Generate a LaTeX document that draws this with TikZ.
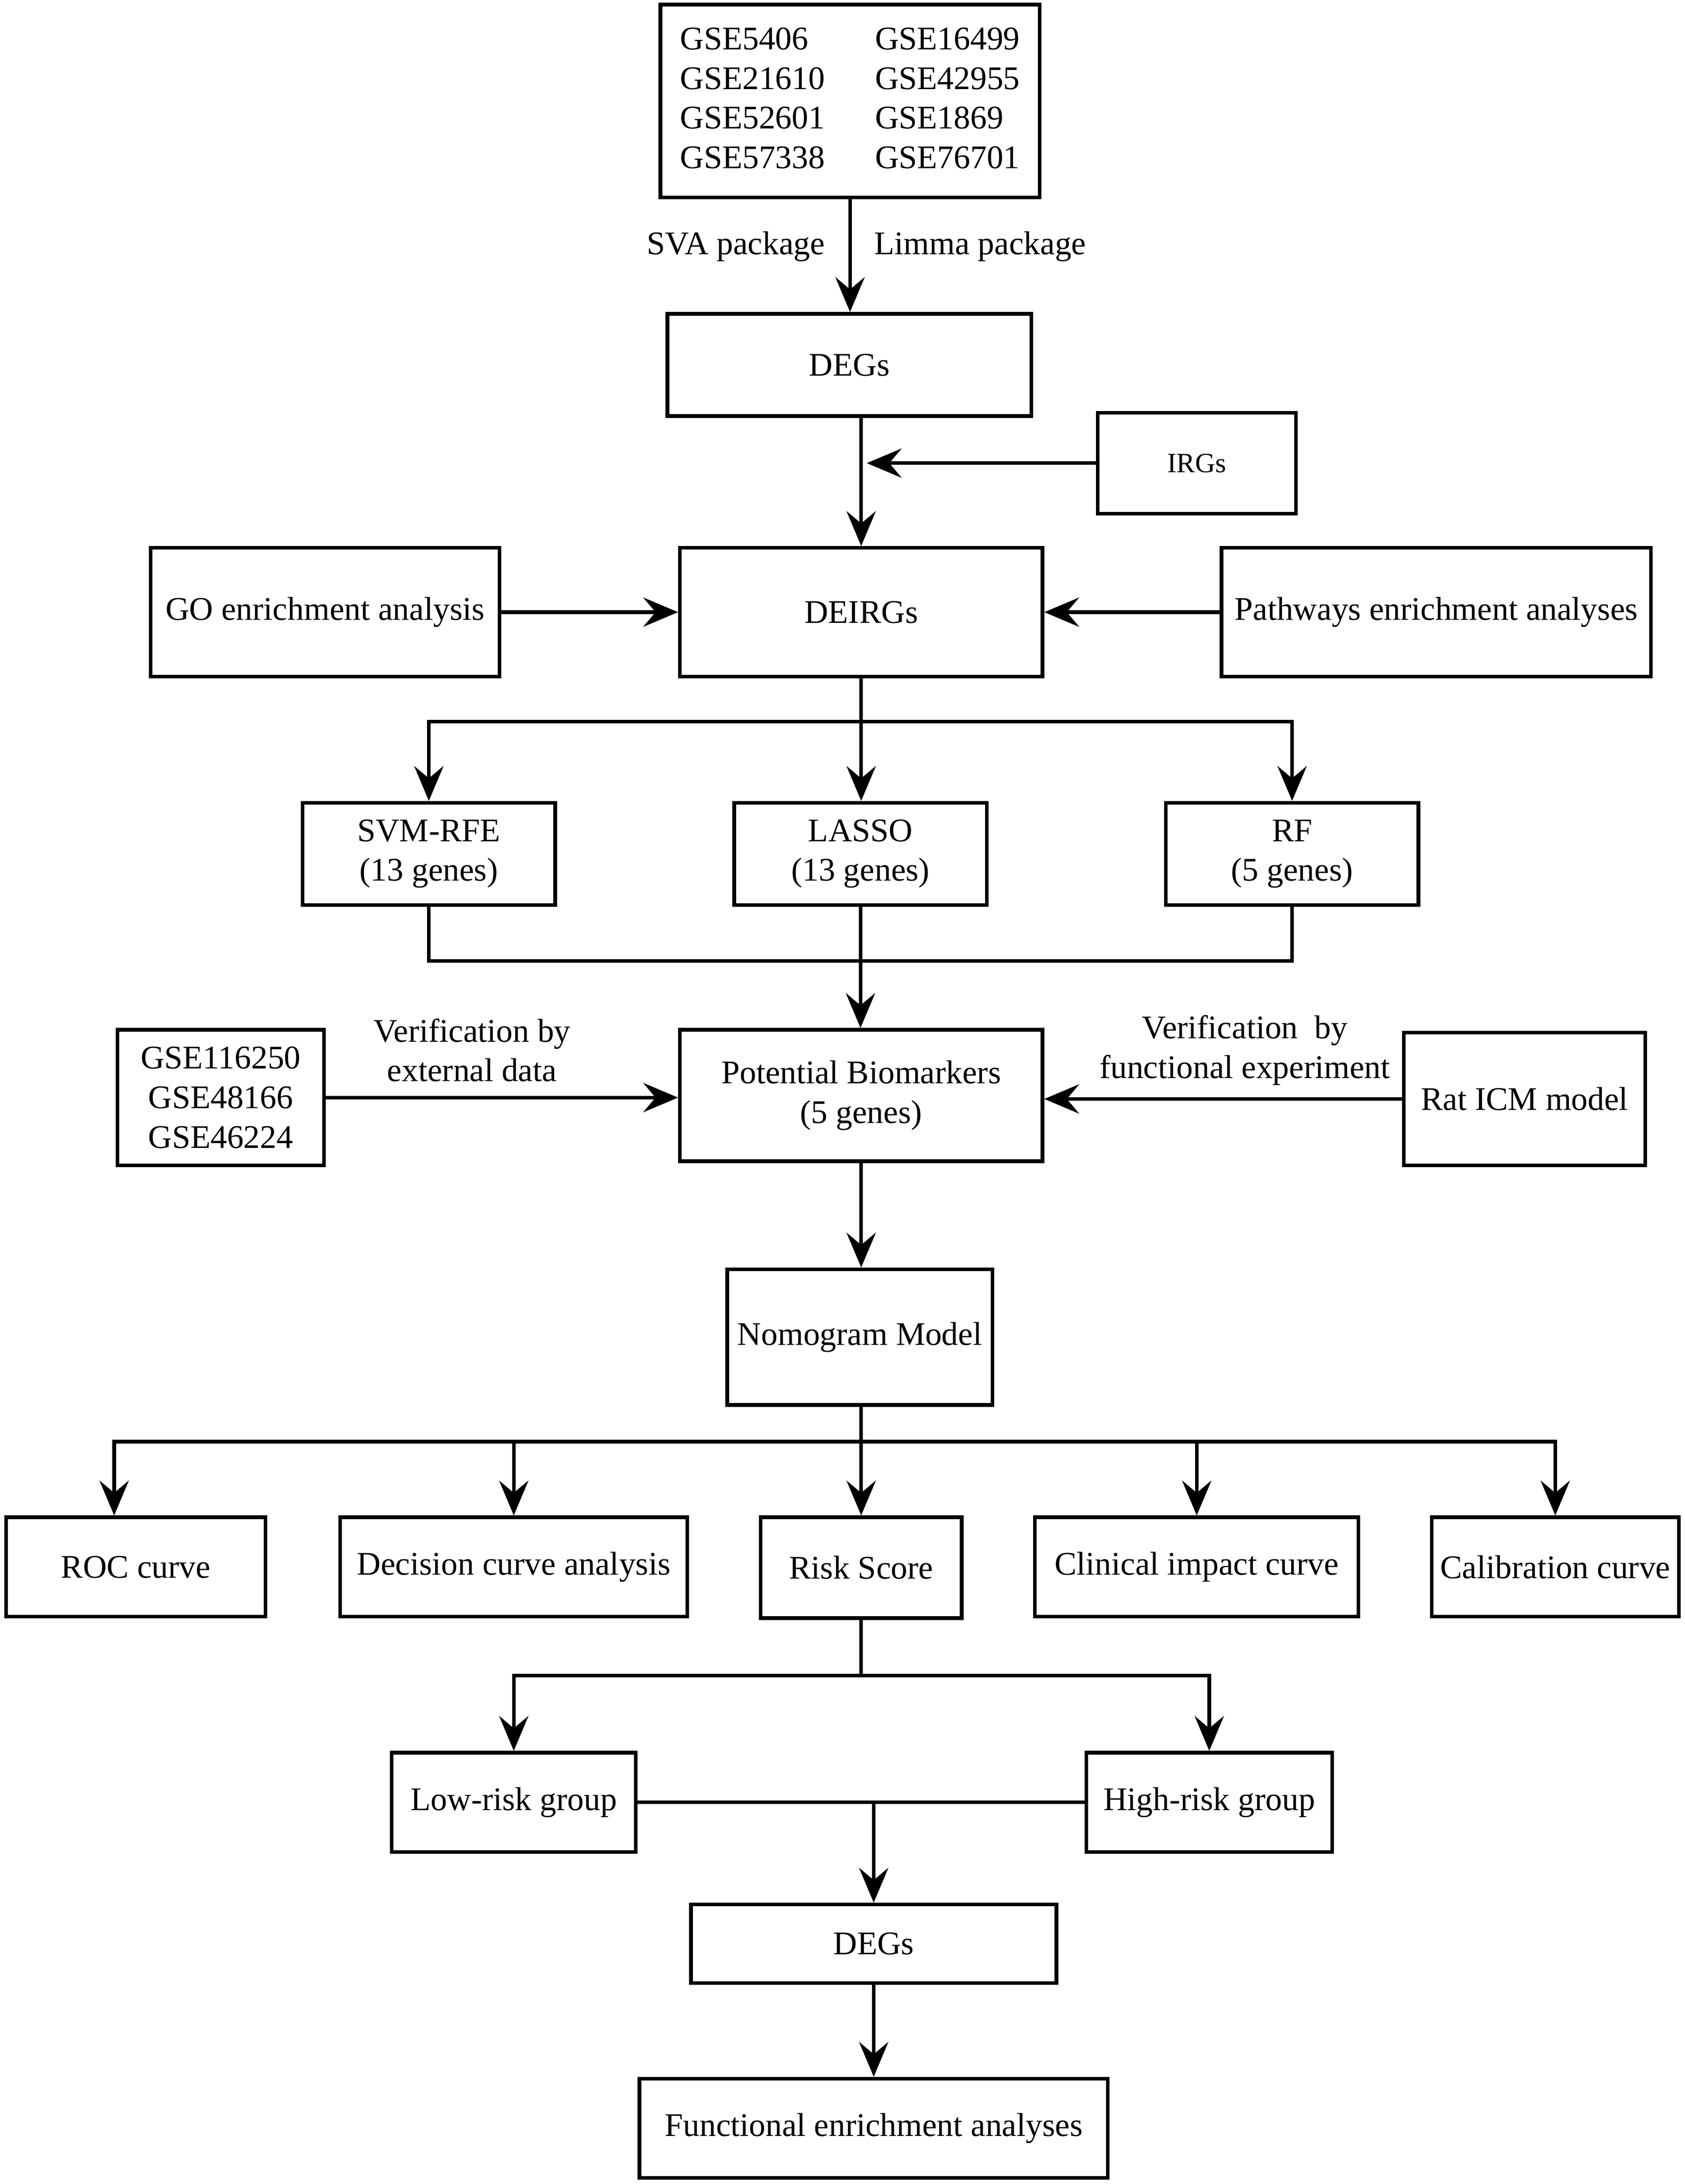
\documentclass[tikz,border=0pt]{standalone}
\usepackage{fontspec}
\setmainfont{Liberation Serif}
\usetikzlibrary{arrows.meta}
\begin{document}
\begin{tikzpicture}[x=0.5pt,y=-0.5pt,
  every node/.style={font=\fontsize{11.85}{14.2}\selectfont},
  box/.style={draw, line width=1.3pt, inner sep=0pt},
  sz/.style 2 args={minimum width={(#1)*0.5pt-1.3pt}, minimum height={(#2)*0.5pt-1.3pt}},
  conn/.style={line width=1.3pt},
  arr/.style={conn, -{Stealth[length=12.5pt,width=10.5pt,inset=4.4pt]}},
  lbl/.style={align=center, inner sep=0pt}]
\useasboundingbox (0,0) rectangle (1210,1568);

% boxes
\node[box, sz={275}{141}] (gse) at (610.5,72.5) {\begin{tabular}{@{}l@{\hspace{18pt}}l@{}}GSE5406 & GSE16499\\GSE21610 & GSE42955\\GSE52601 & GSE1869\\GSE57338 & GSE76701\end{tabular}};
\node[box, sz={264}{76}] (degs) at (610,262) {DEGs};
\node[box, sz={145}{75}, font=\fontsize{10}{12}\selectfont] (irgs) at (859.5,332.5) {IRGs};
\node[box, sz={263}{95}] (deirgs) at (618.5,439.5) {DEIRGs};
\node[box, sz={253}{95}] (go) at (233.5,439.5) {GO enrichment analysis};
\node[box, sz={311}{95}] (path) at (1031.5,439.5) {Pathways enrichment analyses};
\node[box, sz={184}{76}, align=center] (svm) at (308,613) {SVM-RFE\\(13 genes)};
\node[box, sz={184}{76}, align=center] (lasso) at (618,613) {LASSO\\(13 genes)};
\node[box, sz={184}{76}, align=center] (rf) at (928,613) {RF\\(5 genes)};
\node[box, sz={263}{97}, align=center] (pot) at (618.5,786.5) {Potential Biomarkers\\(5 genes)};
\node[box, sz={151}{100}, align=center] (gse2) at (158.5,788) {GSE116250\\GSE48166\\GSE46224};
\node[box, sz={176}{98}] (rat) at (1095,789) {Rat ICM model};
\node[box, sz={193}{100}] (nomo) at (617.5,960) {Nomogram Model};
\node[box, sz={189}{74}] (roc) at (97.5,1125) {ROC curve};
\node[box, sz={252}{74}] (dca) at (369,1125) {Decision curve analysis};
\node[box, sz={147}{75}] (risk) at (618.5,1125.5) {Risk Score};
\node[box, sz={235}{74}] (cic) at (859.5,1125) {Clinical impact curve};
\node[box, sz={180}{74}] (cal) at (1117,1125) {Calibration curve};
\node[box, sz={178}{74}] (low) at (369,1294) {Low-risk group};
\node[box, sz={179}{74}] (high) at (868.5,1294) {High-risk group};
\node[box, sz={265}{59}] (degs2) at (627.5,1395.5) {DEGs};
\node[box, sz={339}{74}] (fea) at (627.5,1528) {Functional enrichment analyses};

% labels
\node[lbl] (sva) at (528.5,177) {SVA package};
\node[lbl] (limma) at (704,177) {Limma package};
\node[lbl] (v1) at (339,754) {Verification by\\external data};
\node[lbl] (v2) at (894,754) {Verification\ \ by\\functional experiment};

% branch coordinates
\coordinate (br1) at (0,518);
\coordinate (br2) at (0,690);
\coordinate (br3) at (0,1035);
\coordinate (br4) at (0,1203);

% connectors
\draw[arr] (gse.south) -- (gse.south |- degs.north);
\draw[arr] (degs.south -| deirgs.north) -- (deirgs.north);
\draw[arr] (irgs.west) -- ([xshift=2pt]irgs.west -| deirgs.north);
\draw[arr] (go.east) -- (deirgs.west);
\draw[arr] (path.west) -- (deirgs.east);
\draw[conn] (deirgs.south) -- (deirgs.south |- br1);
\draw[arr] (deirgs.south |- br1) -| (svm.north);
\draw[arr] (deirgs.south |- br1) -| (rf.north);
\draw[arr] (deirgs.south) -- (deirgs.south |- lasso.north);
\draw[conn] (svm.south) |- (rf.south |- br2) -- (rf.south);
\draw[arr] (lasso.south) -- (lasso.south |- pot.north);
\draw[arr] (gse2.east) -- (gse2.east -| pot.west);
\draw[arr] (rat.west) -- (rat.west -| pot.east);
\draw[arr] (pot.south) -- (pot.south |- nomo.north);
\draw[arr] (risk.north |- nomo.south) -- (risk.north);
\draw[arr] (risk.north |- br3) -| ([xshift=-7.75pt]roc.north);
\draw[arr] (risk.north |- br3) -| (dca.north);
\draw[arr] (risk.north |- br3) -| (cic.north);
\draw[arr] (risk.north |- br3) -| (cal.north);
\draw[conn] (risk.south) -- (risk.south |- br4);
\draw[arr] (risk.south |- br4) -| (low.north);
\draw[arr] (risk.south |- br4) -| (high.north);
\draw[conn] (low.east) -- (high.west);
\draw[arr] (low.east -| degs2.north) -- (degs2.north);
\draw[arr] (degs2.south) -- (fea.north);
\end{tikzpicture}
\end{document}
